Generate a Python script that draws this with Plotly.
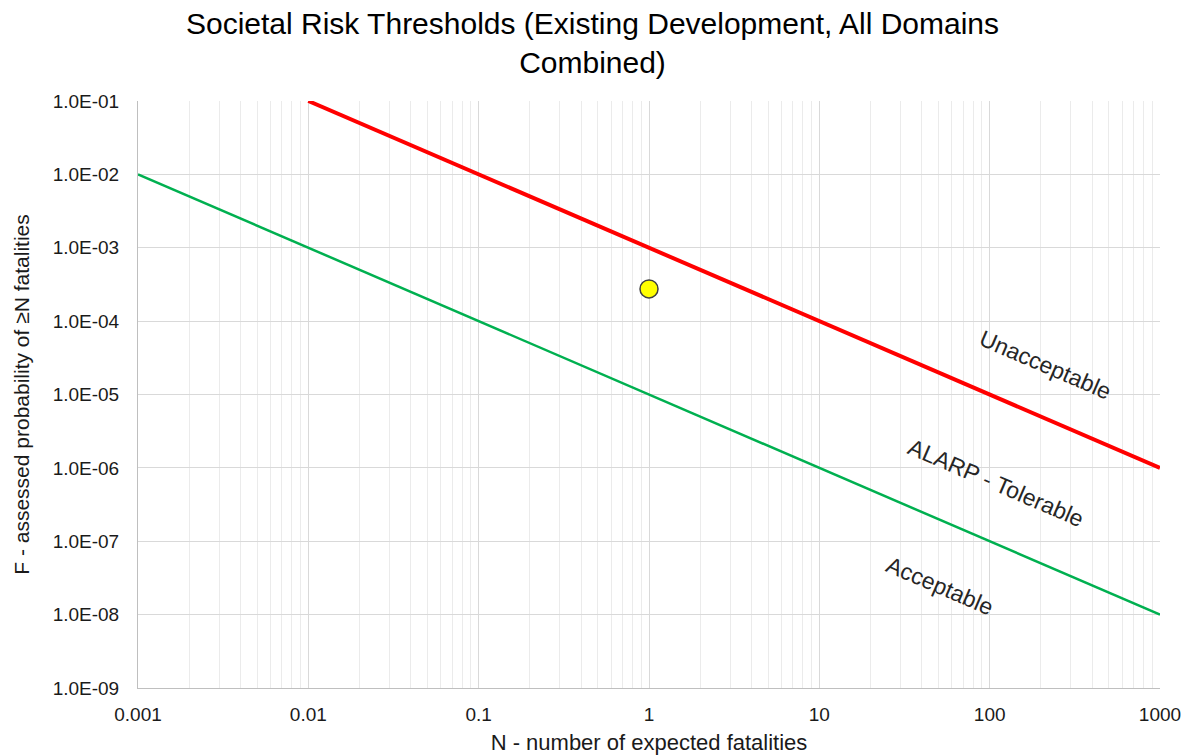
import plotly.graph_objects as go

# Threshold lines (F-N criteria)
n_unacceptable = [0.01, 1000]
f_unacceptable = [1e-1, 1e-6]
n_acceptable = [0.001, 1000]
f_acceptable = [1e-2, 1e-8]

# Assessed risk point
n_point = [1]
f_point = [2.75e-4]

# Axis ticks
x_ticks = [0.001, 0.01, 0.1, 1, 10, 100, 1000]
x_tick_text = ["0.001", "0.01", "0.1", "1", "10", "100", "1000"]
y_ticks = [1e-9, 1e-8, 1e-7, 1e-6, 1e-5, 1e-4, 1e-3, 1e-2, 1e-1]
y_tick_text = ["1.0E-09", "1.0E-08", "1.0E-07", "1.0E-06", "1.0E-05",
               "1.0E-04", "1.0E-03", "1.0E-02", "1.0E-01"]

# Region labels: (text, log10 N, log10 F)
region_labels = [
    ("Unacceptable", 2.33, -4.60),
    ("ALARP - Tolerable", 2.04, -6.20),
    ("Acceptable", 1.71, -7.61),
]

minor_x = [m * 10 ** e for e in range(-3, 3) for m in range(2, 10)]

fig = go.Figure()
fig.add_trace(go.Scatter(x=n_acceptable, y=f_acceptable, mode="lines",
                         line=dict(color="#00b050", width=2.5), showlegend=False))
fig.add_trace(go.Scatter(x=n_unacceptable, y=f_unacceptable, mode="lines",
                         line=dict(color="#ff0000", width=4), showlegend=False))
fig.add_trace(go.Scatter(x=n_point, y=f_point, mode="markers",
                         marker=dict(color="#ffff00", size=18,
                                     line=dict(color="#404040", width=1.5)),
                         showlegend=False))

for text, lx, ly in region_labels:
    fig.add_annotation(x=lx, y=ly, text=text, showarrow=False, textangle=23.3,
                       font=dict(size=23, color="#262626"))

fig.update_layout(
    width=1185, height=755,
    margin=dict(l=138, r=25, t=101, b=67),
    paper_bgcolor="white", plot_bgcolor="white",
    font=dict(family="Liberation Sans, Arial, sans-serif", color="#262626"),
    title=dict(text="Societal Risk Thresholds (Existing Development, All Domains<br>Combined)",
               x=0.5, xanchor="center", y=0.955, yanchor="middle",
               font=dict(size=30, color="#000000")),
)
fig.update_xaxes(
    type="log", range=[-3, 3], tickmode="array", tickvals=x_ticks, ticktext=x_tick_text,
    showgrid=True, gridcolor="#d9d9d9", gridwidth=1,
    minor=dict(tickmode="array", tickvals=minor_x, showgrid=True,
               gridcolor="#ebebeb", gridwidth=1),
    showline=True, linecolor="#bfbfbf", linewidth=1, mirror=False,
    zeroline=False, ticks="", tickfont=dict(size=19, color="#1a1a1a"),
    ticklabelstandoff=9, automargin=False,
    title=dict(text="N - number of expected fatalities", font=dict(size=22, color="#1a1a1a"),
               standoff=10),
)
fig.update_yaxes(
    type="log", range=[-9, -1], tickmode="array", tickvals=y_ticks, ticktext=y_tick_text,
    showgrid=True, gridcolor="#d9d9d9", gridwidth=1,
    showline=True, linecolor="#bfbfbf", linewidth=1,
    zeroline=False, ticks="", tickfont=dict(size=19, color="#1a1a1a"),
    ticklabelstandoff=14, automargin=False,
    title=dict(text="F - assessed probability of ≥N fatalities", font=dict(size=21, color="#1a1a1a"),
               standoff=17),
)

fig.write_html("out.html")
